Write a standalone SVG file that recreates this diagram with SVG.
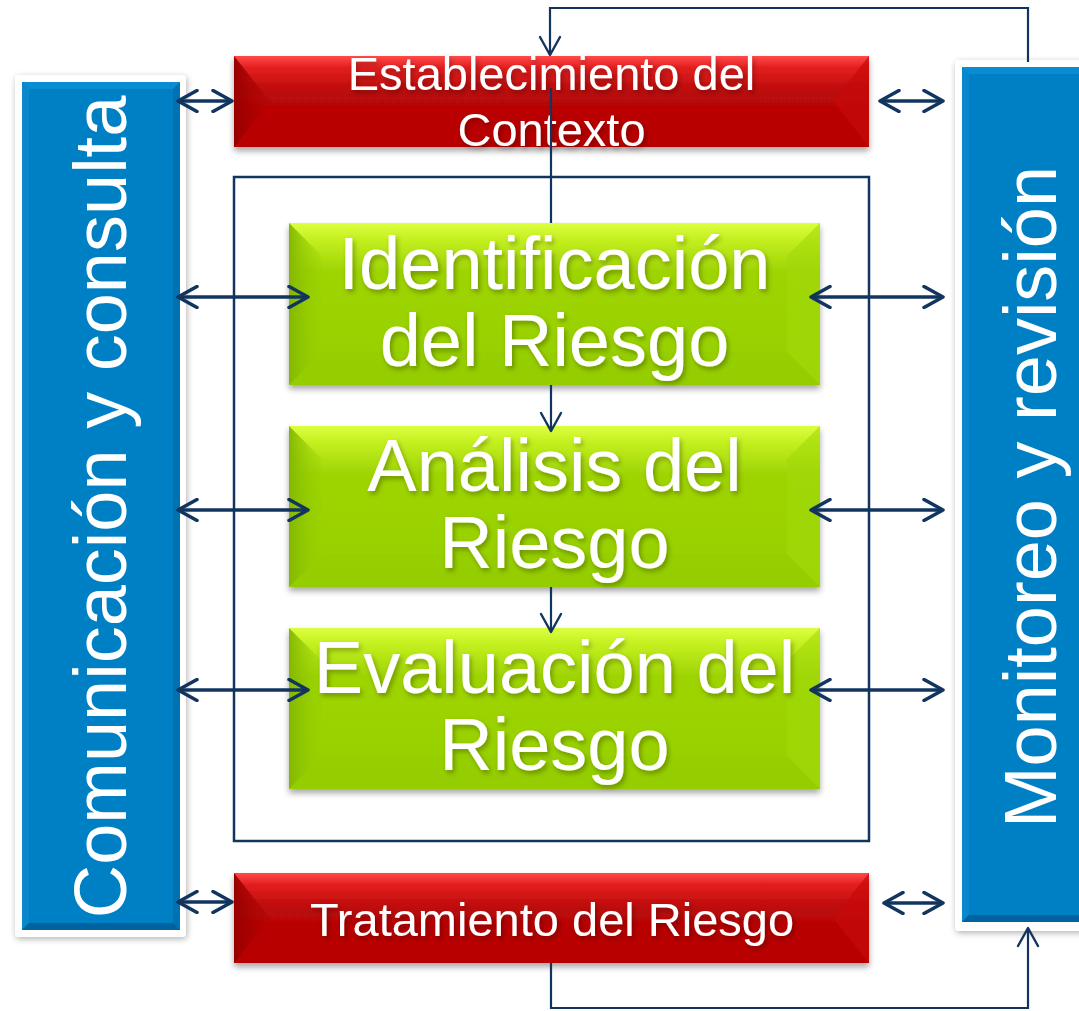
<svg xmlns="http://www.w3.org/2000/svg" width="1079" height="1011" viewBox="0 0 1079 1011">
<defs>
<style>
.lbl{font-family:"Liberation Sans",Arial,sans-serif;fill:#ffffff;text-anchor:middle}
.big{font-size:74px}
.mid{font-size:47px}
.conn{stroke:#12355f;fill:none}
.dbl{stroke-width:3.5}
.thin{stroke-width:2.2}
.frame{fill:none;stroke:#12355f;stroke-width:2.5}
</style>
<linearGradient id="gRed" x1="0" y1="0" x2="0" y2="1">
<stop offset="0" stop-color="#ff4a4a"/>
<stop offset="0.12" stop-color="#e52020"/>
<stop offset="0.4" stop-color="#ba0808"/>
<stop offset="1" stop-color="#b80000"/>
</linearGradient>
<linearGradient id="gGreen" x1="0" y1="0" x2="0" y2="1">
<stop offset="0" stop-color="#dcff40"/>
<stop offset="0.1" stop-color="#c4f020"/>
<stop offset="0.3" stop-color="#9ed404"/>
<stop offset="1" stop-color="#96d000"/>
</linearGradient>
<linearGradient id="gLeftRed" x1="0" y1="0" x2="1" y2="0">
<stop offset="0" stop-color="#980000"/>
<stop offset="1" stop-color="#b00000" stop-opacity="0.3"/>
</linearGradient>
<linearGradient id="gLeftGreen" x1="0" y1="0" x2="1" y2="0">
<stop offset="0" stop-color="#84b800"/>
<stop offset="1" stop-color="#96d000" stop-opacity="0.2"/>
</linearGradient>
<filter id="shadow" x="-10%" y="-10%" width="120%" height="130%">
<feDropShadow dx="0" dy="4" stdDeviation="3" flood-color="#000" flood-opacity="0.35"/>
</filter>
<filter id="softShadow" x="-10%" y="-5%" width="120%" height="110%">
<feDropShadow dx="1" dy="2" stdDeviation="3" flood-color="#000" flood-opacity="0.3"/>
</filter>
<filter id="txtShadow" x="-10%" y="-20%" width="120%" height="150%">
<feDropShadow dx="2" dy="3" stdDeviation="2.5" flood-color="#000" flood-opacity="0.3"/>
</filter>
<marker id="ah" viewBox="0 0 24 24" refX="21" refY="12" markerWidth="24" markerHeight="24" markerUnits="userSpaceOnUse" orient="auto-start-reverse">
<path d="M2,1.5 L21,12 L2,22.5" fill="none" stroke="#12355f" stroke-width="3.5" stroke-linecap="round" stroke-linejoin="round"/>
</marker>
<marker id="ahThin" viewBox="0 0 24 24" refX="21" refY="12" markerWidth="24" markerHeight="24" markerUnits="userSpaceOnUse" orient="auto">
<path d="M3,2 L21,12 L3,22" fill="none" stroke="#12355f" stroke-width="2.4" stroke-linecap="round" stroke-linejoin="round"/>
</marker>
</defs>

<rect x="0" y="0" width="1079" height="1011" fill="#ffffff"/>

<!-- Left: Comunicación y consulta -->
<g id="node-comunicacion">
<rect x="15" y="75" width="171" height="862" rx="4" fill="#ffffff" filter="url(#softShadow)"/>
<rect x="22" y="82" width="158" height="848" fill="#0080c4"/>
<polygon points="22,82 180,82 173,89 29,89" fill="#0a8cd2"/>
<polygon points="22,82 29,89 29,923 22,930" fill="#0887cc"/>
<polygon points="180,82 180,930 173,923 173,89" fill="#0072b2"/>
<polygon points="22,930 180,930 173,923 29,923" fill="#00629e"/>
<text class="lbl big" transform="translate(126,507) rotate(-90)">Comunicación y consulta</text>
</g>

<!-- Right: Monitoreo y revisión -->
<g id="node-monitoreo">
<rect x="955" y="60" width="140" height="871" rx="4" fill="#ffffff" filter="url(#softShadow)"/>
<rect x="962" y="67" width="130" height="855" fill="#0080c4"/>
<polygon points="962,67 1092,67 1085,74 969,74" fill="#0a8cd2"/>
<polygon points="962,67 969,74 969,915 962,922" fill="#0887cc"/>
<polygon points="962,922 1092,922 1085,915 969,915" fill="#00629e"/>
<text class="lbl big" transform="translate(1056,497) rotate(-90)">Monitoreo y revisión</text>
</g>

<!-- Top red: Establecimiento del Contexto -->
<g id="node-contexto">
<rect x="234" y="56" width="635" height="91" fill="url(#gRed)" filter="url(#shadow)"/>
<polygon points="234,56 270,101 234,147" fill="url(#gLeftRed)"/>
<polygon points="869,56 833,101 869,147" fill="#c80808" opacity="0.7"/>
<text class="lbl mid" x="551.5" y="90" filter="url(#txtShadow)">Establecimiento del</text>
<text class="lbl mid" x="551.5" y="146" filter="url(#txtShadow)">Contexto</text>
</g>

<!-- Inner frame grouping the assessment stages -->
<g id="node-valoracion">
<rect class="frame" x="234" y="177" width="635" height="664"/>
</g>

<!-- Green: Identificación del Riesgo -->
<g id="node-identificacion">
<rect x="289" y="223" width="531" height="162" fill="url(#gGreen)" filter="url(#shadow)"/>
<polygon points="289,223 322,256 322,352 289,385" fill="url(#gLeftGreen)"/>
<polygon points="820,223 787,256 787,352 820,385" fill="#a2d80a" opacity="0.6"/>
<polygon points="289,385 322,352 787,352 820,385" fill="#92c800" opacity="0.35"/>
<text class="lbl big" x="554.5" y="289" filter="url(#txtShadow)">Identificación</text>
<text class="lbl big" x="554.5" y="366" filter="url(#txtShadow)">del Riesgo</text>
</g>

<!-- Green: Análisis del Riesgo -->
<g id="node-analisis">
<rect x="289" y="426" width="531" height="161" fill="url(#gGreen)" filter="url(#shadow)"/>
<polygon points="289,426 322,459 322,554 289,587" fill="url(#gLeftGreen)"/>
<polygon points="820,426 787,459 787,554 820,587" fill="#a2d80a" opacity="0.6"/>
<polygon points="289,587 322,554 787,554 820,587" fill="#92c800" opacity="0.35"/>
<text class="lbl big" x="554.5" y="491" filter="url(#txtShadow)">Análisis del</text>
<text class="lbl big" x="554.5" y="568" filter="url(#txtShadow)">Riesgo</text>
</g>

<!-- Green: Evaluación del Riesgo -->
<g id="node-evaluacion">
<rect x="289" y="628" width="531" height="161" fill="url(#gGreen)" filter="url(#shadow)"/>
<polygon points="289,628 322,661 322,756 289,789" fill="url(#gLeftGreen)"/>
<polygon points="820,628 787,661 787,756 820,789" fill="#a2d80a" opacity="0.6"/>
<polygon points="289,789 322,756 787,756 820,789" fill="#92c800" opacity="0.35"/>
<text class="lbl big" x="554.5" y="693" filter="url(#txtShadow)">Evaluación del</text>
<text class="lbl big" x="554.5" y="770" filter="url(#txtShadow)">Riesgo</text>
</g>

<!-- Bottom red: Tratamiento del Riesgo -->
<g id="node-tratamiento">
<rect x="234" y="873" width="635" height="90" fill="url(#gRed)" filter="url(#shadow)"/>
<polygon points="234,873 270,918 234,963" fill="url(#gLeftRed)"/>
<polygon points="869,873 833,918 869,963" fill="#c80808" opacity="0.7"/>
<text class="lbl mid" x="552" y="936" filter="url(#txtShadow)">Tratamiento del Riesgo</text>
</g>

<!-- Connectors -->
<g id="connectors">
<line class="conn dbl" x1="178" y1="101" x2="232" y2="101" marker-start="url(#ah)" marker-end="url(#ah)"/>
<line class="conn dbl" x1="178" y1="297" x2="308" y2="297" marker-start="url(#ah)" marker-end="url(#ah)"/>
<line class="conn dbl" x1="178" y1="510" x2="308" y2="510" marker-start="url(#ah)" marker-end="url(#ah)"/>
<line class="conn dbl" x1="178" y1="690" x2="308" y2="690" marker-start="url(#ah)" marker-end="url(#ah)"/>
<line class="conn dbl" x1="178" y1="902" x2="232" y2="902" marker-start="url(#ah)" marker-end="url(#ah)"/>
<line class="conn dbl" x1="880" y1="101" x2="943" y2="101" marker-start="url(#ah)" marker-end="url(#ah)"/>
<line class="conn dbl" x1="811" y1="297" x2="943" y2="297" marker-start="url(#ah)" marker-end="url(#ah)"/>
<line class="conn dbl" x1="811" y1="510" x2="943" y2="510" marker-start="url(#ah)" marker-end="url(#ah)"/>
<line class="conn dbl" x1="811" y1="690" x2="943" y2="690" marker-start="url(#ah)" marker-end="url(#ah)"/>
<line class="conn dbl" x1="884" y1="903" x2="943" y2="903" marker-start="url(#ah)" marker-end="url(#ah)"/>
<polyline class="conn thin" points="1028,62 1028,8 550,8 550,55" marker-end="url(#ahThin)"/>
<line class="conn thin" x1="551" y1="88" x2="551" y2="223"/>
<line class="conn thin" x1="551" y1="385" x2="551" y2="431" marker-end="url(#ahThin)"/>
<line class="conn thin" x1="551" y1="587" x2="551" y2="632" marker-end="url(#ahThin)"/>
<polyline class="conn thin" points="551,963 551,1008 1028,1008 1028,928" marker-end="url(#ahThin)"/>
</g>
</svg>
